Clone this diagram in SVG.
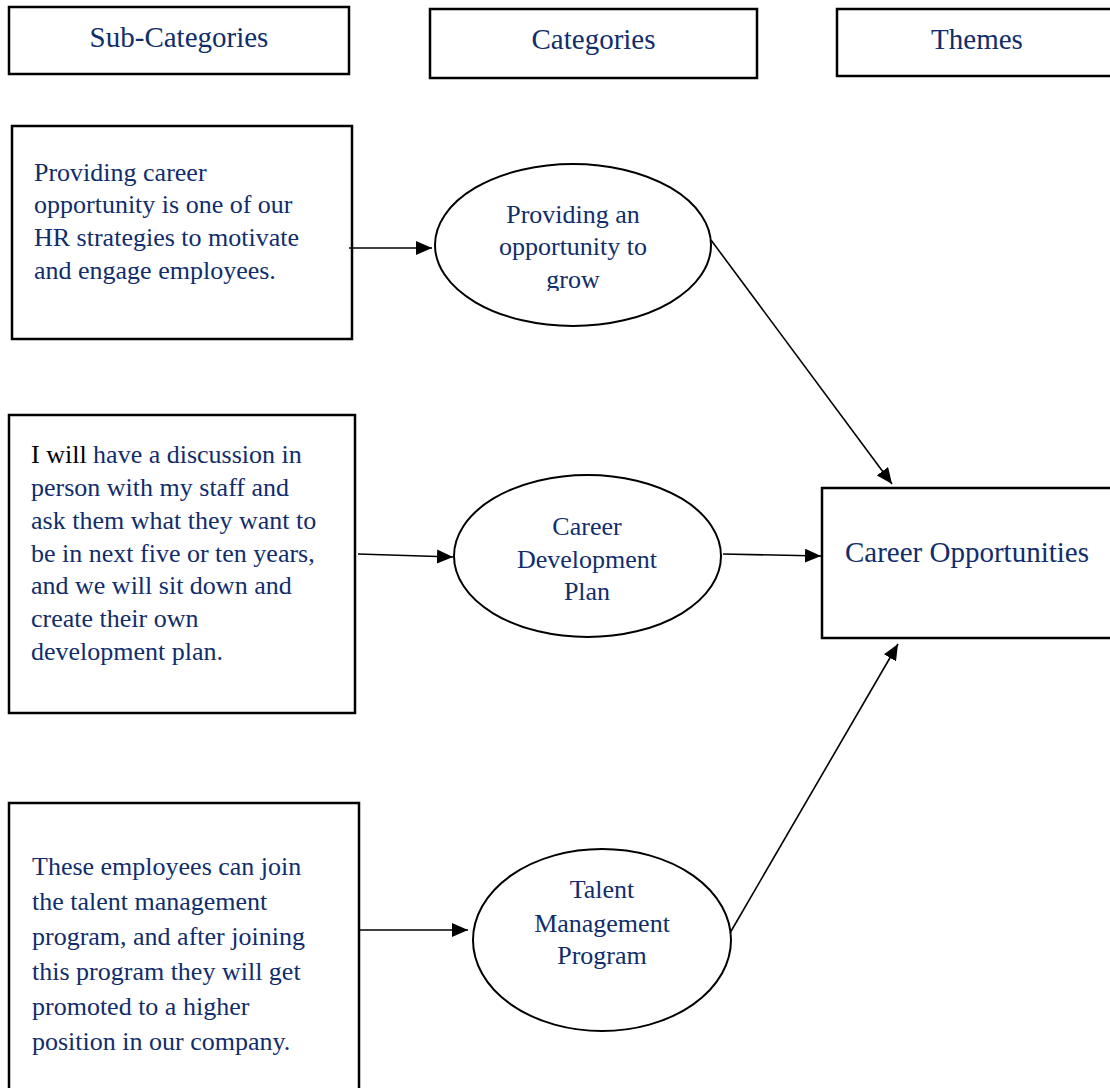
<svg xmlns="http://www.w3.org/2000/svg" width="1110" height="1088" viewBox="0 0 1110 1088">
  <style>
    .box { fill: #ffffff; stroke: #000000; stroke-width: 2.5; }
    .oval { fill: #ffffff; stroke: #000000; stroke-width: 2; }
    .txt { font-family: "Liberation Serif", "Times New Roman", serif; fill: #112d6b; }
    .head { font-size: 29px; text-anchor: middle; }
    .body { font-size: 26px; }
    .mid { font-size: 26px; text-anchor: middle; }
    .big { font-size: 29px; }
    .link { stroke: #000000; stroke-width: 1.6; fill: none; marker-end: url(#arrow); }
  </style>
  <defs>
    <marker id="arrow" markerUnits="userSpaceOnUse" markerWidth="16" markerHeight="14" refX="16" refY="7" orient="auto">
      <path d="M0,0 L16,7 L0,14 z" fill="#000000"/>
    </marker>
    <clipPath id="clip-grow">
      <rect x="430" y="160" width="290" height="131"/>
    </clipPath>
  </defs>
  <rect width="1110" height="1088" fill="#ffffff"/>

  <!-- column headings -->
  <g id="head-subcategories">
    <rect class="box" x="9" y="7" width="340" height="67"/>
    <text class="txt head" x="179" y="47">Sub-Categories</text>
  </g>
  <g id="head-categories">
    <rect class="box" x="430" y="9" width="327" height="69"/>
    <text class="txt head" x="593.5" y="49">Categories</text>
  </g>
  <g id="head-themes">
    <rect class="box" x="837" y="9" width="280" height="67"/>
    <text class="txt head" x="977" y="49">Themes</text>
  </g>

  <!-- sub-category quotes -->
  <g id="quote-hr-strategy">
    <rect class="box" x="12" y="126" width="340" height="213"/>
    <text class="txt body" x="34" y="181">Providing career</text>
    <text class="txt body" x="34" y="213">opportunity is one of our</text>
    <text class="txt body" x="34" y="246">HR strategies to motivate</text>
    <text class="txt body" x="34" y="279">and engage employees.</text>
  </g>
  <g id="quote-discussion">
    <rect class="box" x="9" y="415" width="346" height="298"/>
    <text class="txt body" x="31" y="463"><tspan fill="#000000">I will</tspan> have a discussion in</text>
    <text class="txt body" x="31" y="496">person with my staff and</text>
    <text class="txt body" x="31" y="529">ask them what they want to</text>
    <text class="txt body" x="31" y="562">be in next five or ten years,</text>
    <text class="txt body" x="31" y="594">and we will sit down and</text>
    <text class="txt body" x="31" y="627">create their own</text>
    <text class="txt body" x="31" y="660">development plan.</text>
  </g>
  <g id="quote-talent">
    <rect class="box" x="9" y="803" width="350" height="300"/>
    <text class="txt body" x="32" y="875">These employees can join</text>
    <text class="txt body" x="32" y="910">the talent management</text>
    <text class="txt body" x="32" y="945">program, and after joining</text>
    <text class="txt body" x="32" y="980">this program they will get</text>
    <text class="txt body" x="32" y="1015">promoted to a higher</text>
    <text class="txt body" x="32" y="1050">position in our company.</text>
  </g>

  <!-- categories -->
  <g id="cat-grow">
    <ellipse class="oval" cx="573" cy="245" rx="138" ry="81"/>
    <g clip-path="url(#clip-grow)">
      <text class="txt mid" x="573" y="223">Providing an</text>
      <text class="txt mid" x="573" y="255">opportunity to</text>
      <text class="txt mid" x="573" y="288">grow</text>
    </g>
  </g>
  <g id="cat-development">
    <ellipse class="oval" cx="587.5" cy="556" rx="133.5" ry="81"/>
    <text class="txt mid" x="587" y="535">Career</text>
    <text class="txt mid" x="587" y="568">Development</text>
    <text class="txt mid" x="587" y="600">Plan</text>
  </g>
  <g id="cat-talent">
    <ellipse class="oval" cx="602" cy="940" rx="129" ry="91"/>
    <text class="txt mid" x="602" y="898">Talent</text>
    <text class="txt mid" x="602" y="932">Management</text>
    <text class="txt mid" x="602" y="964">Program</text>
  </g>

  <!-- theme -->
  <g id="theme-career">
    <rect class="box" x="822" y="488" width="300" height="150"/>
    <text class="txt big" x="845" y="562">Career Opportunities</text>
  </g>

  <!-- connectors -->
  <g id="connectors">
    <line class="link" x1="349" y1="248" x2="432" y2="248"/>
    <line class="link" x1="358" y1="554" x2="453" y2="557"/>
    <line class="link" x1="360" y1="930" x2="468" y2="930"/>
    <line class="link" x1="711" y1="240" x2="892" y2="484"/>
    <line class="link" x1="723" y1="554" x2="821" y2="556"/>
    <line class="link" x1="730" y1="933" x2="898" y2="644"/>
  </g>
</svg>
